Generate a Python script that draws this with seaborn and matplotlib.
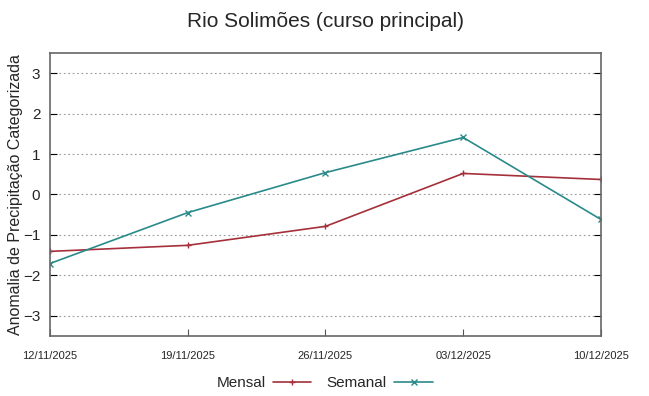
import pandas as pd
import matplotlib
matplotlib.use("Agg")
import matplotlib.pyplot as plt
import matplotlib.dates as mdates
import seaborn as sns

# Data
datas = ["2025-11-12", "2025-11-19", "2025-11-26", "2025-12-03", "2025-12-10"]
mensal = [-1.41, -1.26, -0.79, 0.52, 0.37]
semanal = [-1.71, -0.45, 0.54, 1.41, -0.62]
series = ["Mensal", "Semanal"]
cores = {"Mensal": "#a5303a", "Semanal": "#2a8a8a"}
marcadores = {"Mensal": "+", "Semanal": "x"}

df = pd.DataFrame({
    "data": pd.to_datetime(datas * 2),
    "valor": mensal + semanal,
    "serie": ["Mensal"] * len(datas) + ["Semanal"] * len(datas),
})

sns.set_style("white")
plt.rcParams["font.family"] = ["Liberation Sans", "DejaVu Sans"]

fig = plt.figure(figsize=(6.49, 3.96), dpi=100)
ax = fig.add_axes([0.077, 0.152, 0.849, 0.714])

for s in series:
    sns.lineplot(
        data=df[df["serie"] == s], x="data", y="valor",
        color=cores[s], marker=marcadores[s],
        linewidth=1.2, markersize=5, ax=ax, legend=False,
    )
# marker edges in the line colour
for ln in ax.lines:
    ln.set_markeredgecolor(ln.get_color())
    ln.set_markeredgewidth(1.0)

ax.set_ylim(-3.5, 3.5)
ax.set_xlim(pd.Timestamp(datas[0]), pd.Timestamp(datas[-1]))
ax.set_yticks([-3, -2, -1, 0, 1, 2, 3])
ax.set_xticks(pd.to_datetime(datas))
ax.xaxis.set_major_formatter(mdates.DateFormatter("%d/%m/%Y"))
ax.yaxis.grid(True, linestyle=(0, (1.5, 2.5)), color="#999999", linewidth=0.8)
ax.xaxis.grid(False)

ax.tick_params(axis="y", direction="in", length=5, left=True, right=True,
               labelsize=11, color="black", pad=7)
ax.tick_params(axis="x", direction="in", length=5, bottom=True, labelsize=8,
               color="#555555", pad=11)
for sp in ax.spines.values():
    sp.set_color("#666666")
    sp.set_linewidth(1.2)

ax.set_xlabel("")
ax.set_ylabel("Anomalia de Precipitação Categorizada", fontsize=11.5, labelpad=0)
ax.set_title("Rio Solimões (curso principal)", fontsize=15, pad=19)

handles = [
    plt.Line2D([], [], color=cores[s], marker=marcadores[s], linewidth=1.2,
               markersize=5) for s in series
]
fig.legend(handles, series, loc="lower center", bbox_to_anchor=(0.5, -0.02),
           ncol=2, frameon=False, markerfirst=False, fontsize=11,
           handlelength=2.5, columnspacing=1.0, handletextpad=0.5)

fig.savefig("out.png", dpi=100)
